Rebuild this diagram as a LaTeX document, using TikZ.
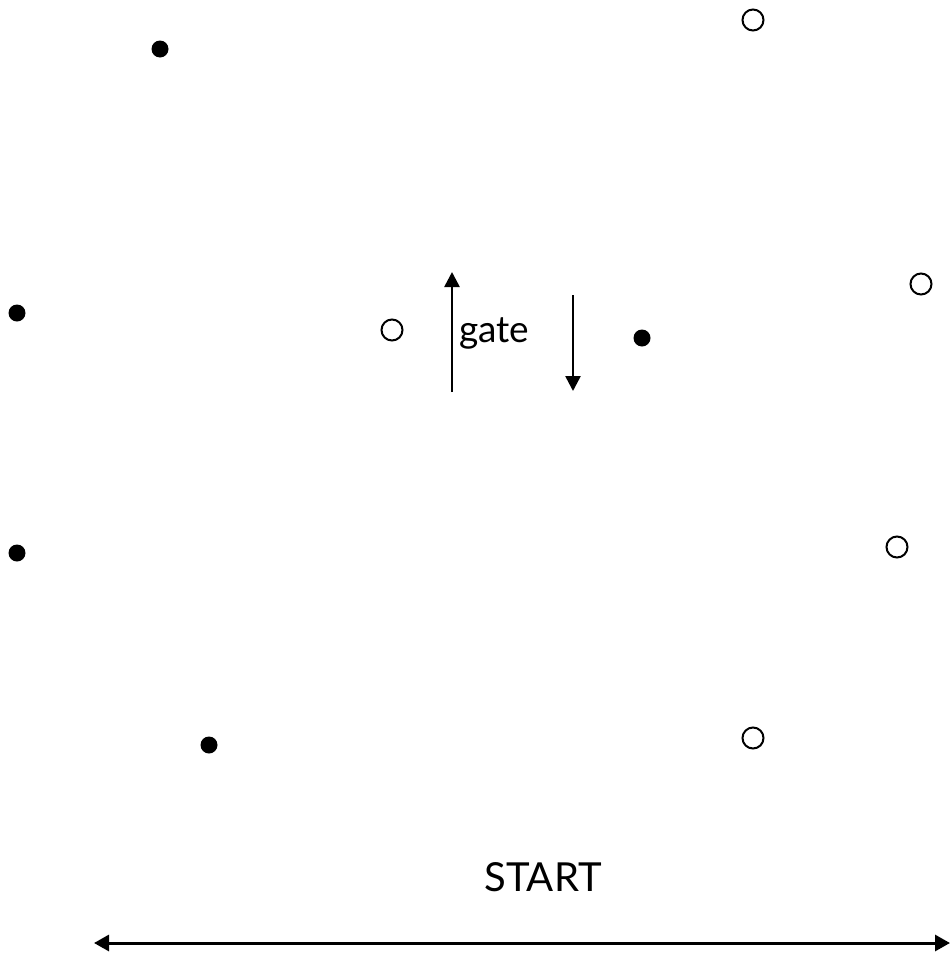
\documentclass[tikz,border=0pt]{standalone}
\usepackage{fontspec}
\setmainfont{Lato}
\usetikzlibrary{arrows.meta}
\begin{document}
\begin{tikzpicture}[x=1pt,y=-1pt,
  filled/.style={circle,fill=black,inner sep=0pt,minimum size=17pt},
  hollow/.style={circle,draw=black,line width=2pt,inner sep=0pt,minimum size=21pt},
  lbl/.style={inner sep=0pt,outer sep=0pt},
  gatearrow/.style={line width=2.6pt,-{Triangle[length=15pt,width=15pt]}},
  startarrow/.style={line width=3pt,{Triangle[length=15pt,width=16pt]}-{Triangle[length=15pt,width=16pt]}}]
\useasboundingbox (0,0) rectangle (950,956);
% filled dots
\node[filled] (f1) at (160,49) {};
\node[filled] (f2) at (17,313) {};
\node[filled] (f3) at (642,338) {};
\node[filled] (f4) at (17,553) {};
\node[filled] (f5) at (209,745) {};
% hollow circles
\node[hollow] (h1) at (753,20) {};
\node[hollow] (h2) at (921,284) {};
\node[hollow] (h3) at (392,330) {};
\node[hollow] (h4) at (897,547) {};
\node[hollow] (h5) at (753,738) {};
% gate
\node[lbl,anchor=base west,font=\fontsize{37}{40}\selectfont] (gate) at (459,342) {gate};
\coordinate (upS) at (452,392);
\coordinate (upE) at (452,272);
\draw[gatearrow] (upS) -- (upE);
\coordinate (dnS) at (573,295);
\coordinate (dnE) at (573,391);
\draw[gatearrow] (dnS) -- (dnE);
% start
\node[lbl,anchor=base,font=\fontsize{40}{44}\selectfont] (start) at (543,891) {START};
\coordinate (sL) at (94,943);
\coordinate (sR) at (950,943);
\draw[startarrow] (sL) -- (sR);
\end{tikzpicture}
\end{document}
